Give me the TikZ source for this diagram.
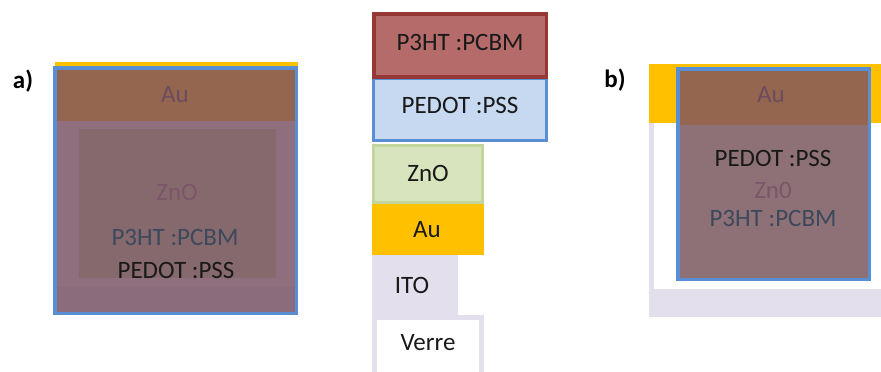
\documentclass[tikz,border=0pt]{standalone}
\usepackage{fontspec}
\setmainfont{Carlito}
\definecolor{blueB}{RGB}{88,143,212}
\definecolor{auY}{RGB}{255,192,0}
\definecolor{auBr}{RGB}{148,102,80}
\definecolor{mauveA}{RGB}{143,111,126}
\definecolor{mauveIn}{RGB}{134,105,109}
\definecolor{mauveBot}{RGB}{139,108,125}
\definecolor{mauveB}{RGB}{142,113,119}
\definecolor{lav}{RGB}{228,223,236}
\definecolor{p3fill}{RGB}{181,107,105}
\definecolor{p3line}{RGB}{149,55,53}
\definecolor{pedfill}{RGB}{198,217,241}
\definecolor{znfill}{RGB}{215,228,189}
\definecolor{znline}{RGB}{195,214,155}
\definecolor{txtAu}{RGB}{110,75,95}
\definecolor{txtZn}{RGB}{122,86,104}
\definecolor{txtP3}{RGB}{60,72,92}
\definecolor{txtPe}{RGB}{25,25,25}
\tikzset{
  lbl/.style={font=\fontsize{25}{28}\selectfont, inner sep=0pt, anchor=center},
  panel/.style={font=\bfseries\fontsize{25}{28}\selectfont, inner sep=0pt, anchor=center},
}
\begin{document}
\begin{tikzpicture}[x=1pt,y=-1pt]
\useasboundingbox (0,0) rectangle (881,372);
% ---------- panel a ----------
\fill[auY] (55,62) rectangle (298,67);
\fill[mauveA] (53,66) rectangle (298,315);
\fill[auBr] (53,66) rectangle (298,121);
\fill[mauveIn] (79,129) rectangle (276,278);
\fill[mauveBot] (55,287) rectangle (296,313);
\draw[blueB, line width=3.5pt] (54.75,67.75) rectangle (296.25,313.25);
\node[panel] (la) at (23,81) {a)};
\node[lbl, text=txtAu] (aAu) at (175,95) {Au};
\node[lbl, text=txtZn] (aZn) at (177,192) {ZnO};
\node[lbl, text=txtP3] (aP3) at (175,237) {P3HT :PCBM};
\node[lbl, text=txtPe] (aPe) at (176,270) {PEDOT :PSS};
% ---------- middle stack ----------
\fill[lav] (372,255) rectangle (458,315);
\draw[lav, line width=5pt] (374.5,372) -- (374.5,317.5) -- (481.5,317.5) -- (481.5,372);
\fill[auY] (372,202) rectangle (484,255);
\draw[znline, fill=znfill, line width=3pt] (373.5,145.5) rectangle (482.5,202);
\draw[pedfill!0, fill=pedfill] (372,77) rectangle (548,142);
\draw[blueB, line width=3pt] (373.5,78.5) rectangle (546.5,140.5);
\draw[p3line, fill=p3fill, line width=3.5pt] (373.75,13.75) rectangle (546.25,77);
\node[lbl, text=txtPe] (mP3) at (460,42) {P3HT :PCBM};
\node[lbl, text=txtPe] (mPe) at (460,105) {PEDOT :PSS};
\node[lbl, text=txtPe] (mZn) at (428,173) {ZnO};
\node[lbl, text=txtPe] (mAu) at (427,230) {Au};
\node[lbl, text=txtPe] (mIT) at (412,285) {ITO};
\node[lbl, text=txtPe] (mVe) at (428,343) {Verre};
% ---------- panel b ----------
\fill[lav] (649,64) rectangle (881,317);
\fill[white] (654,123) rectangle (881,289);
\fill[auY] (649,64) rectangle (881,123);
\fill[mauveB] (676,67) rectangle (871,281);
\fill[auBr] (676,67) rectangle (871,125);
\draw[blueB, line width=3.5pt] (677.75,68.75) rectangle (869.25,279.25);
\node[panel] (lb) at (615,80) {b)};
\node[lbl, text=txtAu] (bAu) at (771,95) {Au};
\node[lbl, text=txtPe] (bPe) at (773,158) {PEDOT :PSS};
\node[lbl, text=txtZn] (bZn) at (773,190) {Zn0};
\node[lbl, text=txtP3] (bP3) at (773,218) {P3HT :PCBM};
\end{tikzpicture}
\end{document}
